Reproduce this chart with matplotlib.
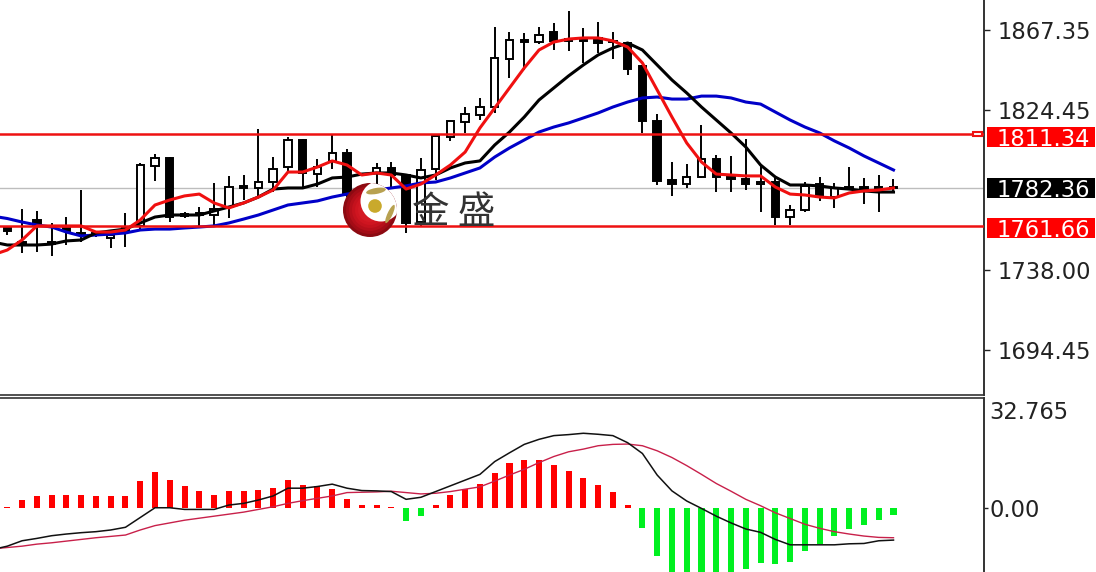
import numpy as np
import matplotlib
matplotlib.use("Agg")
import matplotlib.pyplot as plt
from matplotlib.patches import Circle, Ellipse, Rectangle
from matplotlib.transforms import blended_transform_factory

opens = [1760.9,1753.0,1764.9,1753.0,1760.6,1757.9,1757.9,1755.2,1760.6,1761.7,1794.1,1798.6,1768.1,1768.7,1767.6,1771.9,1783.3,1782.2,1785.4,1793.5,1808.1,1789.7,1796.8,1801.1,1777.3,1790.3,1793.0,1789.2,1763.8,1792.4,1809.7,1817.8,1821.6,1825.9,1851.8,1862.1,1861.0,1866.4,1862.4,1862.6,1863.2,1861.6,1860.5,1848.1,1818.4,1786.5,1784.3,1788.1,1797.8,1788.7,1787.0,1784.3,1785.4,1766.5,1770.3,1784.3,1777.3,1782.7,1782.7,1781.6,1782.7]
highs = [1761.7,1770.8,1769.8,1763.3,1766.5,1781.1,1758.4,1757.9,1768.7,1795.7,1800.5,1798.9,1769.2,1771.9,1784.9,1788.7,1789.2,1814.0,1798.9,1809.7,1808.6,1797.8,1810.8,1803.2,1783.8,1795.7,1796.2,1789.2,1798.4,1810.3,1818.4,1825.9,1830.8,1869.1,1866.4,1865.9,1869.1,1871.3,1877.8,1868.6,1871.8,1866.4,1861.0,1848.6,1822.1,1796.2,1795.1,1816.2,1800.0,1799.5,1808.6,1794.6,1787.6,1773.0,1785.4,1788.1,1784.9,1793.5,1787.6,1789.2,1787.0]
lows = [1756.8,1747.1,1747.6,1745.5,1751.4,1753.0,1755.7,1749.8,1750.3,1759.5,1786.0,1763.8,1766.0,1761.7,1762.2,1766.0,1775.7,1777.3,1780.0,1791.4,1781.6,1782.7,1792.4,1777.3,1773.0,1778.4,1782.7,1757.9,1761.1,1786.5,1807.6,1811.9,1818.9,1822.7,1841.6,1845.9,1859.9,1856.7,1856.2,1849.7,1855.1,1851.8,1843.2,1811.9,1783.8,1777.9,1782.2,1787.6,1780.0,1780.0,1781.1,1769.2,1762.2,1762.2,1769.2,1775.2,1771.4,1781.1,1773.5,1769.2,1780.0]
closes = [1758.9,1751.4,1762.2,1751.9,1759.0,1756.8,1756.8,1756.8,1758.4,1794.6,1798.4,1766.5,1767.1,1767.6,1770.8,1782.7,1782.2,1785.4,1792.4,1808.1,1790.3,1793.5,1801.1,1778.4,1780.0,1793.0,1789.2,1763.3,1791.9,1810.3,1818.4,1822.1,1825.9,1852.4,1862.1,1861.0,1864.8,1861.6,1861.6,1861.6,1860.5,1860.8,1846.4,1818.4,1785.9,1784.3,1788.1,1797.8,1788.1,1787.0,1784.3,1785.4,1766.5,1770.3,1783.3,1777.3,1782.2,1781.6,1781.6,1782.7,1782.36]

ma_red = [1746.0,1748.7,1754.1,1761.7,1761.7,1761.7,1761.7,1758.4,1758.4,1759.5,1764.9,1773.0,1775.7,1777.9,1778.9,1774.1,1771.4,1774.1,1777.3,1781.1,1790.8,1790.8,1793.5,1796.8,1794.6,1789.2,1790.3,1789.2,1781.6,1784.3,1789.2,1794.6,1801.6,1814.6,1825.4,1836.2,1847.0,1856.7,1861.0,1862.6,1863.2,1863.2,1861.6,1858.3,1849.7,1835.1,1820.5,1806.5,1796.2,1789.7,1789.2,1788.7,1788.7,1782.7,1778.9,1778.4,1777.3,1776.8,1779.5,1780.6,1781.1,1782.2]
ma_black = [1753.0,1751.4,1751.4,1751.4,1751.9,1753.6,1754.1,1757.9,1759.0,1760.0,1763.3,1766.5,1767.6,1767.6,1767.6,1769.8,1771.9,1774.1,1777.3,1781.6,1782.2,1782.2,1784.3,1787.6,1788.1,1789.7,1790.3,1790.3,1789.2,1787.6,1789.2,1793.0,1795.7,1796.8,1805.4,1812.4,1820.5,1829.7,1836.2,1842.7,1848.6,1854.0,1857.8,1860.5,1856.7,1848.6,1840.5,1833.5,1825.9,1818.9,1811.9,1804.3,1794.6,1788.1,1783.8,1783.8,1783.3,1782.2,1781.6,1780.6,1780.0,1780.0]
ma_blue = [1767.0,1765.7,1763.8,1762.2,1761.1,1758.4,1756.3,1756.8,1757.3,1757.9,1759.5,1760.0,1760.0,1760.6,1761.1,1761.7,1763.3,1765.4,1767.6,1770.3,1773.0,1774.1,1775.2,1777.3,1778.9,1780.0,1781.1,1782.2,1783.3,1784.9,1785.4,1787.6,1790.3,1793.0,1798.9,1803.8,1808.1,1812.4,1815.1,1817.3,1820.0,1822.7,1825.9,1828.6,1830.8,1831.3,1830.2,1830.2,1831.8,1831.8,1830.8,1828.6,1827.5,1823.2,1818.9,1815.1,1811.9,1807.6,1803.8,1799.5,1795.7,1791.9]

macd_hist = [0.3,2.5,3.7,4.0,4.0,4.0,3.7,3.7,3.7,8.1,10.9,8.4,6.6,5.1,4.0,5.1,5.1,5.4,6.1,8.4,6.9,6.6,5.9,2.7,1.0,1.0,0.3,-3.7,-2.2,1.0,4.0,5.7,7.2,10.6,13.6,14.4,14.4,12.9,11.1,9.1,6.9,4.8,1.0,-5.9,-14.1,-22.0,-22.0,-24.0,-24.0,-22.0,-18.0,-16.1,-16.5,-15.8,-12.6,-10.6,-8.1,-6.2,-4.8,-3.4,-1.9]
macd_line = [-12.2,-11.2,-9.6,-8.9,-8.1,-7.6,-7.2,-6.9,-6.4,-5.6,-2.7,0.2,0.2,-0.3,-0.3,-0.3,1.0,1.5,2.5,3.7,6.0,6.0,6.5,7.2,6.0,5.3,5.2,5.0,2.7,3.3,5.0,6.7,8.4,10.1,13.9,16.5,19.0,20.5,21.6,21.9,22.3,22.0,21.6,19.5,16.3,9.9,5.2,2.2,0.0,-2.3,-4.3,-6.1,-7.1,-9.2,-10.8,-10.8,-10.8,-10.8,-10.5,-10.4,-9.6,-9.4]
macd_signal = [-12.0,-11.6,-11.2,-10.6,-10.2,-9.7,-9.2,-8.7,-8.3,-7.9,-6.4,-5.1,-4.3,-3.5,-2.9,-2.3,-1.7,-1.1,-0.3,0.5,1.5,2.3,3.0,3.7,4.7,4.8,4.9,5.1,4.7,4.3,4.5,5.0,5.7,6.4,8.1,9.9,11.6,13.6,15.4,16.8,17.6,18.6,19.0,19.1,18.6,17.1,15.1,12.7,10.1,7.4,5.1,2.7,0.8,-1.3,-3.0,-4.7,-5.9,-6.9,-7.6,-8.2,-8.6,-8.7]

price_ticks = [1867.35, 1824.45, 1738.00, 1694.45]
price_tick_labels = ["1867.35", "1824.45", "1738.00", "1694.45"]
levels = [1811.34, 1761.66]
last_price = 1782.36
macd_max = 32.765

W, H = 1096, 572
FS = 16.3
fig = plt.figure(figsize=(W / 100, H / 100), dpi=100, facecolor="white")
plt.rcParams["font.family"] = ["DejaVu Sans"]


def box(x0, y0, x1, y1):
    return [x0 / W, 1 - y1 / H, (x1 - x0) / W, (y1 - y0) / H]


ax = fig.add_axes(box(0, 0, 984, 394.5))
ax2 = fig.add_axes(box(0, 398, 984, 572))
PX = 14.77
xlim = (-7.3 / PX, (984 - 7.3) / PX)
PP = 1.852  # px per price unit
ax.set_xlim(*xlim)
ax.set_ylim(1883.69 - 394.5 / PP, 1883.69)
ax2.set_xlim(*xlim)
ax2.set_ylim(macd_max - 174 / 3.37, macd_max)

x = np.arange(len(opens))
xl = np.arange(-1, len(opens))
o, c, h, l = map(np.array, (opens, closes, highs, lows))

ax.axhline(last_price, color="#bdbdbd", lw=1, zorder=1)
ax.vlines(x, l, h, color="black", lw=1.4, zorder=2)
up = c >= o
ax.bar(x[up], (c - o)[up], bottom=o[up], width=0.5, facecolor="white",
       edgecolor="black", lw=1.4, zorder=3)
ax.bar(x[~up], (c - o)[~up], bottom=o[~up], width=0.5, facecolor="black",
       edgecolor="black", lw=1.4, zorder=3)
ax.plot(xl, ma_blue, color="#0000c8", lw=2.2, zorder=4)
ax.plot(xl, ma_black, color="black", lw=2.2, zorder=4)
ax.plot(xl, ma_red, color="#f01010", lw=2.2, zorder=5)
for lv in levels:
    ax.axhline(lv, color="#ee1111", lw=1.8, zorder=6)

tf = blended_transform_factory(ax.transAxes, ax.transData)
ax.add_patch(Rectangle((973 / 984, levels[0] - 1.3), 9 / 984, 2.6, transform=tf,
                       fill=True, facecolor="white", edgecolor="#ee1111", lw=1.5, zorder=7))

ax.yaxis.tick_right()
ax.set_yticks(price_ticks, price_tick_labels)
ax.tick_params(axis="y", length=4, width=1, pad=6, labelsize=FS, colors="#222222")
ax.set_xticks([])
for s in ("top", "left"):
    ax.spines[s].set_visible(False)
ax.spines["right"].set_linewidth(1.4)
ax.spines["bottom"].set_linewidth(1.2)
ax.spines["bottom"].set_color("#333333")
ax.spines["right"].set_color("#333333")

# price tags; the first and last sit a little below their level
label_items = [(levels[0], "#ff0000", 3.0, 127, 147), (last_price, "black", 0.0, 178, 198), (levels[1], "#ff0000", 2.0, 218, 238)]
for val, bg, off_px, _, _ in label_items:
    yc = val - off_px / PP
    ax.add_patch(Rectangle((987 / 984, yc - 10 / PP), 108 / 984, 20 / PP, transform=tf,
                           facecolor=bg, edgecolor="none", clip_on=False, zorder=8))
    ax.text(997 / 984, yc, f"{val:.2f}", transform=tf, color="white", fontsize=FS,
            va="center_baseline", ha="left", clip_on=False, zorder=9)

bar_colors = ["#ff0000" if v >= 0 else "#00f020" for v in macd_hist]
ax2.bar(x, macd_hist, width=0.41, color=bar_colors, zorder=2)
ax2.plot(xl, macd_signal, color="#c8204a", lw=1.0, zorder=3)
ax2.plot(xl, macd_line, color="#111111", lw=1.1, zorder=4)
ax2.yaxis.tick_right()
ax2.set_yticks([0], ["0.00"])
ax2.tick_params(axis="y", length=3, width=1, pad=1, labelsize=FS, colors="#222222")
ax2.set_xticks([])
tf2 = blended_transform_factory(ax2.transAxes, ax2.transData)
ax2.text(989 / 984, 29.2, f"{macd_max:.3f}", transform=tf2, color="#222222",
         fontsize=FS, va="center_baseline", ha="left", clip_on=False)
for s in ("bottom", "left"):
    ax2.spines[s].set_visible(False)
ax2.spines["top"].set_linewidth(1.2)
ax2.spines["top"].set_color("#333333")
ax2.spines["right"].set_linewidth(1.4)
ax2.spines["right"].set_color("#333333")

# watermark logo, in pixel coordinates
ov = fig.add_axes([0, 0, 1, 1], facecolor="none", zorder=10)
ov.set_xlim(0, W)
ov.set_ylim(H, 0)
ov.axis("off")
for r, col in zip(np.linspace(27, 3, 9), ["#8c0a12", "#a30c16", "#b50f1a", "#c4121d", "#cf1520", "#d41a24", "#d41a24", "#d41a24", "#d41a24"]):
    ov.add_patch(Circle((370, 210), r, facecolor=col, edgecolor="none"))
outer = Circle((370, 210), 27, transform=ov.transData)
inner = Circle((381, 201), 20.5, facecolor="white", edgecolor="none")
ov.add_patch(inner)
inner.set_clip_path(outer)
ov.add_patch(Circle((375, 206), 6.8, facecolor="#c9a92c", edgecolor="none"))
ov.add_patch(Ellipse((376, 191), 20, 6, angle=-10, facecolor="#b8a150", edgecolor="none"))
ov.add_patch(Ellipse((390, 214), 5, 20, angle=25, facecolor="#b8a150", edgecolor="none"))
ov.text(412, 212, "金 盛", family=["Noto Sans CJK SC", "DejaVu Sans"], fontsize=27,
        color="#333333", va="center", ha="left")

fig.savefig("out.png", dpi=100, facecolor="white")
